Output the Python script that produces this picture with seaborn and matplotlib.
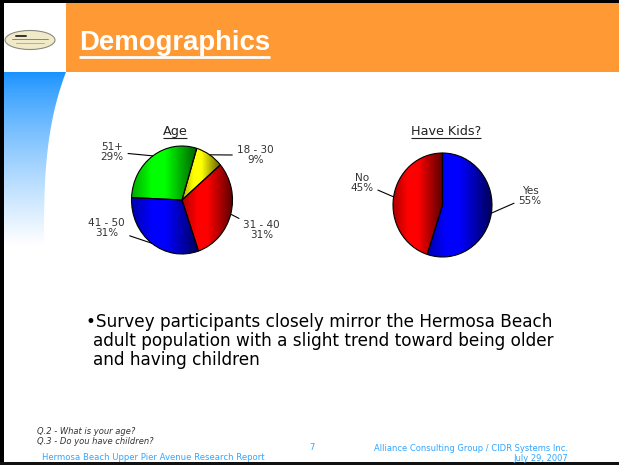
import numpy as np
import matplotlib
matplotlib.use("Agg")
import matplotlib.pyplot as plt
import seaborn as sns
from matplotlib.colors import LinearSegmentedColormap, to_rgb
from matplotlib.patches import Rectangle, Ellipse, Polygon

# chart data
age_labels = ["18 - 30", "31 - 40", "41 - 50", "51+"]
age_values = [9, 31, 31, 29]
age_colors = ["#FFFF00", "#FF0000", "#0000FF", "#00FF00"]

kids_labels = ["Yes", "No"]
kids_values = [55, 45]
kids_colors = ["#0000FF", "#FF0000"]

# label placement (pie units) for each slice
age_label_pos = [(1.45, 0.83), (1.58, -0.56), (-1.49, -0.52), (-1.39, 0.89)]
kids_label_pos = [(1.77, 0.17), (-1.63, 0.42)]

sns.set_theme(style="white")
plt.rcParams["font.family"] = ["DejaVu Sans"]

W, H = 619, 465
fig = plt.figure(figsize=(W / 100, H / 100), dpi=100)
fig.patch.set_facecolor("white")

ax_bg = fig.add_axes([0, 0, 1, 1], zorder=0)
ax_bg.set_xlim(0, W)
ax_bg.set_ylim(H, 0)
ax_bg.axis("off")

# header bar, frame and logo
ax_bg.add_patch(Rectangle((66, 3), W - 66, 69, color="#FF9933", lw=0))
ax_bg.add_patch(Rectangle((0, 0), W, 3, color="black", lw=0))
ax_bg.add_patch(Rectangle((0, 0), 4, H, color="black", lw=0))
ax_bg.add_patch(Rectangle((0, 462), W, 3, color="#111111", lw=0))
ax_bg.add_patch(Ellipse((30, 40), 50, 19, facecolor="#F1EAC8", edgecolor="#8A8A80", lw=0.8))
ax_bg.plot([16, 26], [36, 36], color="#333333", lw=1.4)
ax_bg.plot([12, 48], [39.5, 39.5], color="#777766", lw=0.6)
ax_bg.plot([16, 44], [43, 43], color="#999988", lw=0.5)

# blue strip on the left, fading down
ys = np.linspace(72, 245, 60)
xs = 44 + 22 * ((245 - ys) / 173) ** 3
strip = Polygon(np.r_[[[4, 72]], np.c_[xs, ys], [[4, 245]]], closed=True,
                facecolor="none", edgecolor="none", transform=ax_bg.transData)
ax_bg.add_patch(strip)
t = np.linspace(0, 1, 200) ** 0.8
top = np.array(to_rgb("#1590FF"))
grad = top[None, :] * (1 - t[:, None]) + np.ones(3)[None, :] * t[:, None]
img = ax_bg.imshow(grad[:, None, :], extent=[4, 66, 245, 72], aspect="auto", zorder=1)
img.set_clip_path(strip)
ax_bg.set_xlim(0, W)
ax_bg.set_ylim(H, 0)

title = ax_bg.text(79, 43, "Demographics", color="white", fontsize=19.8, fontweight="bold",
                   family=["Liberation Sans"], va="center", ha="left", zorder=3)


def shaded_pie(cx, cy, rx, ry, values, colors, labels, label_pos, start):
    half = 120
    ax = fig.add_axes([(cx - half) / W, (H - cy - half) / H, 2 * half / W, 2 * half / H], zorder=2)
    wedges, _ = ax.pie(values, colors=colors, startangle=start, counterclock=False,
                       wedgeprops=dict(edgecolor="black", linewidth=0.8))
    for w, c in zip(wedges, colors):
        base = np.array(to_rgb(c))
        cmap = LinearSegmentedColormap.from_list(
            "shade", [(0, base * 0.68), (0.3, base), (0.5, base), (1, base * 0.35)])
        ext = w.get_path().get_extents()
        g = np.linspace(0, 1, 256).reshape(1, -1)
        im = ax.imshow(g, cmap=cmap, extent=[ext.x0, ext.x1, ext.y0, ext.y1],
                       aspect="auto", zorder=1, interpolation="bilinear")
        im.set_clip_path(w)
        w.set_facecolor("none")
        w.set_zorder(2)
    for w, lab, v, pos in zip(wedges, labels, values, label_pos):
        mid = np.deg2rad((w.theta1 + w.theta2) / 2)
        ax.annotate(f"{lab}\n{v}%", xy=(np.cos(mid), np.sin(mid)), xytext=pos,
                    ha="center", va="center", fontsize=7.5, color="#333333", linespacing=1.05,
                    arrowprops=dict(arrowstyle="-", color="black", lw=0.8, shrinkA=1, shrinkB=0),
                    zorder=3)
    ax.set_aspect("auto")
    ax.set_xlim(-half / rx, half / rx)
    ax.set_ylim(-half / ry, half / ry)
    ax.axis("off")
    return ax


shaded_pie(182, 200, 50.5, 54, age_values, age_colors, age_labels, age_label_pos, 73)
shaded_pie(442.5, 205, 49.5, 52, kids_values, kids_colors, kids_labels, kids_label_pos, 90)

t_age = ax_bg.text(175, 131, "Age", fontsize=9.2, color="#222222", ha="center", va="center")
t_kids = ax_bg.text(446, 131, "Have Kids?", fontsize=9.2, color="#222222", ha="center", va="center")

ax_bg.text(86, 322, "\u2022Survey participants closely mirror the Hermosa Beach",
           fontsize=12.2, color="black", va="center")
ax_bg.text(93, 341, "adult population with a slight trend toward being older",
           fontsize=12.2, color="black", va="center")
ax_bg.text(93, 360, "and having children", fontsize=12.2, color="black", va="center")

ax_bg.text(37, 431, "Q.2 - What is your age?", fontsize=6, style="italic", color="#333333", va="center")
ax_bg.text(37, 441, "Q.3 - Do you have children?", fontsize=6, style="italic", color="#333333", va="center")
blue_txt = "#33A6FF"
ax_bg.text(42, 457, "Hermosa Beach Upper Pier Avenue Research Report", fontsize=6.1, color=blue_txt, va="center")
ax_bg.text(312, 447, "7", fontsize=6, color=blue_txt, va="center", ha="center")
ax_bg.text(568, 448, "Alliance Consulting Group / CIDR Systems Inc.", fontsize=6, color=blue_txt,
           va="center", ha="right")
ax_bg.text(568, 458, "July 29, 2007", fontsize=6, color=blue_txt, va="center", ha="right")

# underline titles
fig.canvas.draw()
renderer = fig.canvas.get_renderer()
inv = ax_bg.transData.inverted()
for txt, col, lw, off in [(title, "white", 2, 1), (t_age, "#222222", 0.8, 0), (t_kids, "#222222", 0.8, 0)]:
    bb = txt.get_window_extent(renderer)
    (x0, y0), (x1, y1) = inv.transform([(bb.x0, bb.y0), (bb.x1, bb.y1)])
    ax_bg.plot([x0, x1], [y0 + off, y0 + off], color=col, lw=lw, zorder=3, solid_capstyle="butt")

fig.savefig("out.png", dpi=100)
